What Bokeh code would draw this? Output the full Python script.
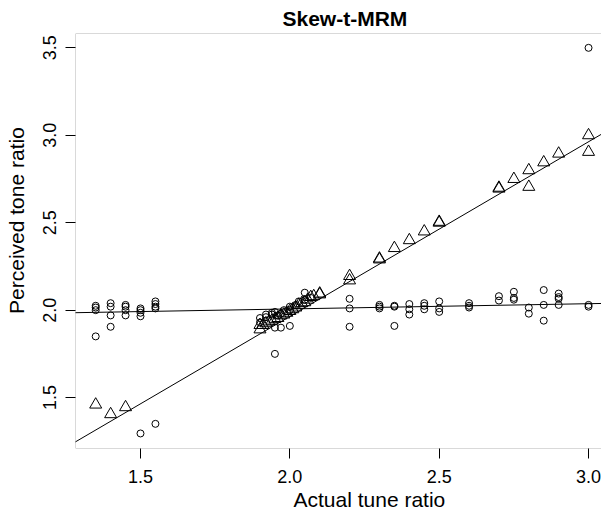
from bokeh.plotting import figure
from bokeh.models import Range1d, FixedTicker, Slope, BoxAnnotation, Title
from bokeh.embed import file_html
from bokeh.resources import INLINE

title_text = "Skew-t-MRM"
x_label = "Actual tune ratio"
y_label = "Perceived tone ratio"

x_ticks = [1.5, 2.0, 2.5, 3.0]
y_ticks = [1.5, 2.0, 2.5, 3.0, 3.5]

# open circles
circle_x = [1.35, 1.35, 1.35, 1.35,
            1.40, 1.40, 1.40, 1.40,
            1.45, 1.45, 1.45, 1.45,
            1.50, 1.50, 1.50, 1.50, 1.50,
            1.55, 1.55, 1.55, 1.55, 1.55,
            1.90, 1.90, 1.92, 1.92, 1.94, 1.94, 1.95, 1.95, 1.95, 1.96,
            1.97, 1.97, 1.98, 2.00, 2.00, 2.00, 2.02, 2.03, 2.05, 2.05, 2.07,
            2.20, 2.20, 2.20,
            2.30, 2.30, 2.30,
            2.35, 2.35, 2.35,
            2.40, 2.40, 2.40,
            2.45, 2.45, 2.45,
            2.50, 2.50, 2.50,
            2.60, 2.60, 2.60,
            2.70, 2.70,
            2.75, 2.75, 2.75,
            2.80, 2.80,
            2.85, 2.85, 2.85,
            2.90, 2.90, 2.90, 2.90,
            3.00, 3.00, 3.00]
circle_y = [2.025, 2.015, 2.000, 1.850,
            2.040, 2.020, 1.970, 1.905,
            2.030, 2.020, 2.000, 1.970,
            2.010, 2.000, 1.985, 1.965, 1.295,
            2.050, 2.035, 2.020, 2.010, 1.350,
            1.930, 1.955, 1.960, 1.975, 1.975, 1.985, 1.900, 1.750, 1.990, 1.970,
            1.900, 1.980, 2.000, 1.910, 2.000, 2.020, 2.030, 2.050, 2.100, 2.060, 2.070,
            2.065, 2.010, 1.905,
            2.030, 2.020, 2.010,
            2.025, 2.020, 1.910,
            2.035, 2.005, 1.975,
            2.040, 2.025, 2.005,
            2.050, 2.010, 1.990,
            2.040, 2.025, 2.015,
            2.080, 2.055,
            2.105, 2.070, 2.060,
            2.015, 1.980,
            2.115, 2.030, 1.940,
            2.095, 2.075, 2.065, 2.030,
            3.500, 2.030, 2.020]

# open triangles
triangle_x = [1.35, 1.40, 1.45,
              1.90, 1.90, 1.91, 1.92, 1.93, 1.94, 1.95, 1.96, 1.97, 1.98, 1.99,
              2.00, 2.01, 2.02, 2.03, 2.04, 2.05, 2.06, 2.07, 2.08, 2.10, 2.10,
              2.20, 2.20, 2.30, 2.30, 2.35, 2.40, 2.45, 2.50, 2.50,
              2.70, 2.70, 2.75, 2.80, 2.80, 2.85, 2.90, 3.00, 3.00]
triangle_y = [1.460, 1.405, 1.445,
              1.890, 1.915, 1.915, 1.925, 1.935, 1.940, 1.950, 1.955, 1.970, 1.975, 1.985,
              1.995, 2.005, 2.015, 2.030, 2.040, 2.045, 2.060, 2.075, 2.080, 2.095, 2.090,
              2.195, 2.170, 2.295, 2.290, 2.355, 2.400, 2.450, 2.500, 2.505,
              2.695, 2.700, 2.750, 2.800, 2.705, 2.845, 2.895, 3.000, 2.905]

# fitted lines (intercept, slope)
line_intercepts = [-0.034, 1.947]
line_slopes = [0.999, 0.030]

FONT = "Liberation Sans"
NBSP = "\u00a0"

p = figure(width=601, height=514, output_backend="svg", toolbar_location=None,
           x_range=Range1d(1.2824, 3.0434), y_range=Range1d(1.209, 3.582),
           min_border_left=75, min_border_right=0, min_border_top=32,
           min_border_bottom=66)

p.outline_line_color = None
p.background_fill_color = "white"
p.border_fill_color = "white"
p.xgrid.visible = False
p.ygrid.visible = False

p.title.text = title_text
p.title.text_font = FONT
p.title.text_font_size = "21px"
p.title.text_font_style = "bold"
p.title.text_color = "black"
p.title.align = "left"
p.title.offset = 207
p.title.standoff = 8

for ax, ticks in ((p.xaxis[0], x_ticks), (p.yaxis[0], y_ticks)):
    ax.ticker = FixedTicker(ticks=ticks)
    ax.major_label_overrides = {t: f"{t:.1f}" for t in ticks}
    ax.axis_line_color = None
    ax.major_tick_in = 0
    ax.major_tick_out = 10
    ax.major_tick_line_color = "black"
    ax.minor_tick_line_color = None
    ax.major_label_text_font = FONT
    ax.major_label_text_font_size = "18px"
    ax.major_label_text_color = "black"

p.xaxis[0].major_label_standoff = 11
p.yaxis[0].major_label_standoff = 9
p.yaxis[0].major_label_orientation = "vertical"

# y-axis title (shifted upward as in the reference)
p.yaxis[0].axis_label = NBSP * 7 + y_label
p.yaxis[0].axis_label_text_font = FONT
p.yaxis[0].axis_label_text_font_size = "21px"
p.yaxis[0].axis_label_text_font_style = "normal"
p.yaxis[0].axis_label_text_color = "black"
p.yaxis[0].axis_label_standoff = 13

# x-axis title placed below, offset to the right as in the reference
p.add_layout(Title(text=x_label, align="left", offset=218, standoff=0,
                   vertical_align="bottom", text_font=FONT,
                   text_font_size="21px", text_font_style="normal",
                   text_color="black"), "below")

# plot box (right side lies beyond the window, as in the reference)
p.add_layout(BoxAnnotation(left=p.x_range.start, right=p.x_range.end + 0.2,
                           bottom=p.y_range.start, top=p.y_range.end,
                           fill_alpha=0, line_color="black", line_width=1))

for b, m in zip(line_intercepts, line_slopes):
    p.add_layout(Slope(gradient=m, y_intercept=b, line_color="black", line_width=1))

p.scatter(circle_x, circle_y, marker="circle", size=7, fill_color=None,
          line_color="black", line_width=1)
p.scatter(triangle_x, triangle_y, marker="triangle", size=12, fill_color=None,
          line_color="black", line_width=1)

open("out.html", "w").write(file_html(p, INLINE))
